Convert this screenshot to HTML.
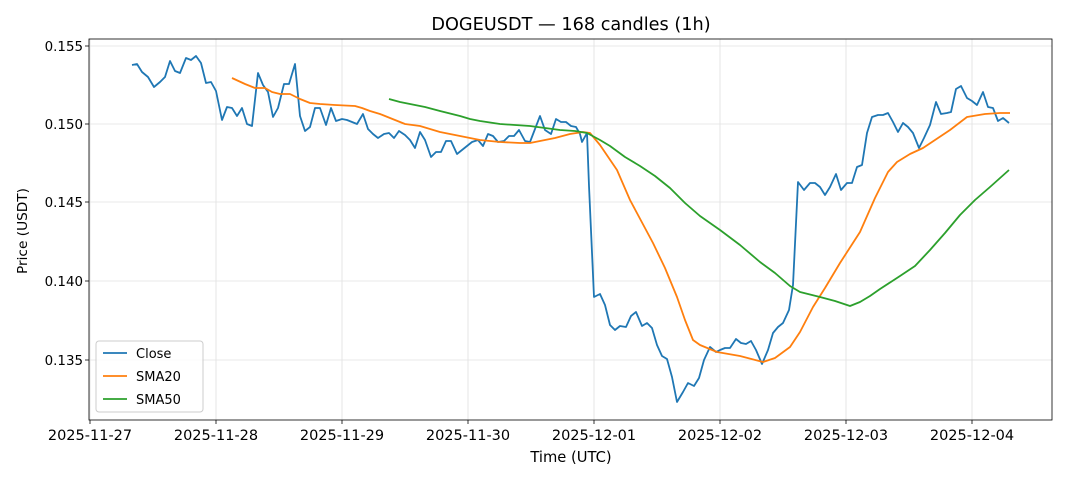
<!DOCTYPE html>
<html><head><meta charset="utf-8"><style>
body{margin:0;background:#fff}
svg text{font-family:"DejaVu Sans","Liberation Sans",sans-serif;fill:#000}
</style></head><body>
<svg width="1068" height="481" viewBox="0 0 1068 481" xmlns="http://www.w3.org/2000/svg">
<rect width="1068" height="481" fill="#fff"/>
<g stroke="#e0e0e0" stroke-width="0.8">
<line x1="90" y1="39" x2="90" y2="420"/><line x1="216" y1="39" x2="216" y2="420"/><line x1="342" y1="39" x2="342" y2="420"/><line x1="468" y1="39" x2="468" y2="420"/><line x1="594" y1="39" x2="594" y2="420"/><line x1="720" y1="39" x2="720" y2="420"/><line x1="846" y1="39" x2="846" y2="420"/><line x1="972" y1="39" x2="972" y2="420"/>
<line x1="89" y1="46" x2="1052" y2="46"/><line x1="89" y1="124" x2="1052" y2="124"/><line x1="89" y1="202" x2="1052" y2="202"/><line x1="89" y1="281" x2="1052" y2="281"/><line x1="89" y1="360" x2="1052" y2="360"/>
</g>
<g fill="none" stroke-width="1.8" stroke-linejoin="round">
<polyline stroke="#1f77b4" points="132,65 137,64 142,72 148,77 154,87 160,82 165,77 170,61 175,71 180,73 186,58 191,60 196,56 201,63 206,83 211,82 216,91 222,120 227,107 232,108 237,116 242,108 247,124 252,126 258,73 263,85 268,92 273,117 278,108 284,84 289,84 295,64 300,116 305,131 310,127 315,108 320,108 326,125 331,108 336,121 342,119 347,120 352,122 357,124 363,114 368,129 373,134 378,138 384,134 389,133 394,138 399,131 405,135 410,140 415,148 420,132 425,140 431,157 436,152 441,152 446,141 451,141 457,154 462,150 467,146 472,142 478,140 483,146 488,134 493,136 498,142 504,141 509,136 514,136 519,130 525,141 530,142 535,129 540,116 545,130 551,134 556,119 561,122 566,122 571,126 576,127 580,134 582,142 587,133 589,186 594,297 600,294 605,305 610,325 615,330 620,326 626,327 631,316 636,312 642,326 647,323 652,328 657,345 662,356 667,359 672,377 677,402 683,392 688,383 694,386 699,378 704,360 710,347 716,352 720,350 725,348 730,348 736,339 741,343 746,344 751,341 756,350 762,364 768,350 773,333 778,327 783,323 789,310 793,285 798,182 804,190 810,183 815,183 820,187 825,195 830,187 836,174 841,190 847,183 852,183 857,167 862,165 867,133 872,117 878,115 883,115 888,113 893,122 898,132 903,123 908,127 913,133 919,148 924,138 930,125 936,102 941,114 947,113 951,112 956,89 961,86 967,98 972,101 977,105 983,92 988,107 993,108 998,121 1003,118 1009,123"/>
<polyline stroke="#ff7f0e" points="232,78 245,84 255,88 265,88 272,92 280,94 290,94 300,99 310,103 320,104 335,105 355,106 362,108 370,111 380,114 395,120 405,124 420,126 440,132 460,136 480,140 500,142 520,143 530,143 540,141 555,138 570,134 583,132 590,133 600,145 617,170 630,200 653,243 665,268 677,297 685,320 693,340 700,345 717,352 740,356 763,362 775,358 790,347 800,332 813,307 825,288 840,263 860,232 875,198 888,172 897,162 910,154 923,148 935,140 950,130 967,117 985,114 1000,113 1010,113"/>
<polyline stroke="#2ca02c" points="389,99 400,102 425,107 440,111 460,116 470,119 480,121 500,124 515,125 530,126 545,128 560,130 575,131 587,133 600,140 610,146 625,157 640,166 655,176 670,188 685,203 700,216 720,230 740,245 760,262 775,273 790,286 800,292 820,297 835,301 850,306 860,302 870,296 880,289 900,276 915,266 930,250 945,233 960,215 975,200 990,187 1009,170"/>
</g>
<rect x="89" y="39" width="963" height="381" fill="none" stroke="#000" stroke-width="0.8"/>
<g stroke="#000" stroke-width="0.8">
<line x1="90" y1="420" x2="90" y2="424"/><line x1="216" y1="420" x2="216" y2="424"/><line x1="342" y1="420" x2="342" y2="424"/><line x1="468" y1="420" x2="468" y2="424"/><line x1="594" y1="420" x2="594" y2="424"/><line x1="720" y1="420" x2="720" y2="424"/><line x1="846" y1="420" x2="846" y2="424"/><line x1="972" y1="420" x2="972" y2="424"/>
<line x1="85" y1="46" x2="89" y2="46"/><line x1="85" y1="124" x2="89" y2="124"/><line x1="85" y1="202" x2="89" y2="202"/><line x1="85" y1="281" x2="89" y2="281"/><line x1="85" y1="360" x2="89" y2="360"/>
</g>
<g font-size="14.5" text-anchor="middle">
<text x="90" y="440">2025-11-27</text><text x="216" y="440">2025-11-28</text><text x="342" y="440">2025-11-29</text><text x="468" y="440">2025-11-30</text><text x="594" y="440">2025-12-01</text><text x="720" y="440">2025-12-02</text><text x="846" y="440">2025-12-03</text><text x="972" y="440">2025-12-04</text>
<text x="571" y="462" font-size="14.7">Time (UTC)</text>
<text x="571" y="30" font-size="17.7">DOGEUSDT — 168 candles (1h)</text>
</g>
<g font-size="13.4" text-anchor="end">
<text x="83" y="51">0.155</text><text x="83" y="129">0.150</text><text x="83" y="207">0.145</text><text x="83" y="286">0.140</text><text x="83" y="365">0.135</text>
</g>
<text x="27" y="231" font-size="13.7" text-anchor="middle" transform="rotate(-90 27 231)">Price (USDT)</text>
<rect x="96" y="341" width="107" height="71" rx="3" fill="#fff" fill-opacity="0.8" stroke="#ccc"/>
<g stroke-width="1.8"><line x1="103" y1="353" x2="127" y2="353" stroke="#1f77b4"/><line x1="103" y1="376" x2="127" y2="376" stroke="#ff7f0e"/><line x1="103" y1="399" x2="127" y2="399" stroke="#2ca02c"/></g>
<g font-size="13"><text x="136" y="358">Close</text><text x="136" y="381">SMA20</text><text x="136" y="404">SMA50</text></g>
</svg>
</body></html>
